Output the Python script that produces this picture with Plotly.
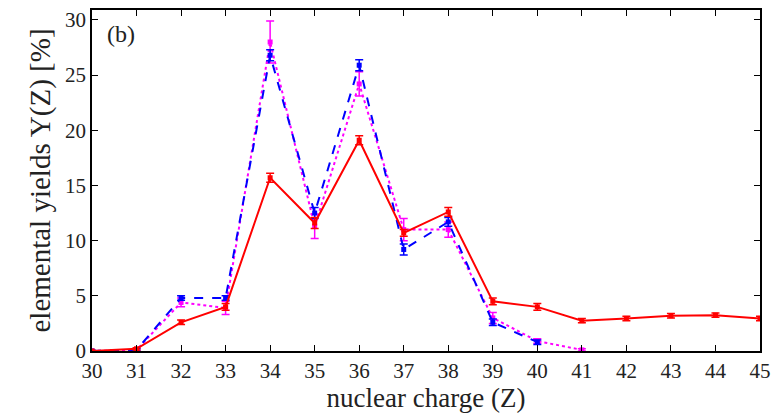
import plotly.graph_objects as go

# Nuclear charge Z
z_red = list(range(30, 46))
z_blue = list(range(30, 41))
z_mag = list(range(30, 42))

# Elemental yields Y(Z) [%]
y_red = [0.0, 0.2, 2.6, 4.0, 15.7, 11.6, 19.1, 10.7, 12.6, 4.5, 4.0, 2.75, 2.95, 3.2, 3.25, 2.95]
e_red = [0.05, 0.1, 0.2, 0.3, 0.4, 0.5, 0.4, 0.3, 0.4, 0.3, 0.3, 0.2, 0.2, 0.2, 0.2, 0.2]

y_blue = [0.0, 0.1, 4.8, 4.8, 26.8, 12.5, 25.9, 9.2, 11.7, 2.6, 0.8]
e_blue = [0.05, 0.1, 0.2, 0.2, 0.5, 0.5, 0.5, 0.5, 0.4, 0.3, 0.2]

y_mag = [0.0, 0.1, 4.4, 3.9, 28.0, 11.3, 24.2, 11.0, 11.0, 3.0, 0.9, 0.1]
e_mag = [0.05, 0.1, 0.4, 0.6, 1.9, 1.1, 1.1, 1.0, 0.7, 0.5, 0.2, 0.1]

x_ticks = list(range(30, 46))
y_ticks = [0, 5, 10, 15, 20, 25, 30]

FONT = "Liberation Serif"

fig = go.Figure()

fig.add_trace(go.Scatter(
    x=z_mag, y=y_mag, mode="lines+markers",
    line=dict(color="#ff00ff", width=2, dash="dot"),
    marker=dict(color="#ff00ff", size=5, symbol="square"),
    error_y=dict(type="data", array=e_mag, color="#ff00ff", thickness=1.5, width=4),
))
fig.add_trace(go.Scatter(
    x=z_blue, y=y_blue, mode="lines+markers",
    line=dict(color="#0000ff", width=2, dash="dash"),
    marker=dict(color="#0000ff", size=5, symbol="square"),
    error_y=dict(type="data", array=e_blue, color="#0000ff", thickness=1.5, width=4),
))
fig.add_trace(go.Scatter(
    x=z_red, y=y_red, mode="lines+markers",
    line=dict(color="#ff0000", width=2),
    marker=dict(color="#ff0000", size=5, symbol="square"),
    error_y=dict(type="data", array=e_red, color="#ff0000", thickness=1.5, width=4),
))

axis_common = dict(
    showline=True, linecolor="black", linewidth=1.5, mirror="ticks",
    ticks="inside", ticklen=6, tickcolor="black", tickwidth=1.2,
    showgrid=False, zeroline=False, automargin=False, ticklabeloverflow="allow",
    tickfont=dict(family=FONT, size=21, color="#222222"),
)

fig.update_layout(
    width=771, height=414,
    margin=dict(l=92, r=11, t=10, b=63),
    plot_bgcolor="white", paper_bgcolor="white",
    showlegend=False,
    font=dict(family=FONT),
    xaxis=dict(
        range=[30, 45], tickvals=x_ticks, ticktext=[str(v) for v in x_ticks],
        title=dict(text="nuclear charge (Z)", font=dict(family=FONT, size=27, color="#222222"), standoff=4),
        **axis_common,
    ),
    yaxis=dict(
        range=[0, 30.9], tickvals=y_ticks, ticktext=[str(v) for v in y_ticks],
        title=dict(text="elemental yields Y(Z) [%]", font=dict(family=FONT, size=29, color="#222222"), standoff=6),
        **axis_common,
    ),
    annotations=[dict(
        text="(b)", x=0.02, y=0.93, xref="paper", yref="paper",
        xanchor="left", yanchor="middle", showarrow=False,
        font=dict(family=FONT, size=24, color="#222222"),
    )],
)

fig.write_html("out.html")
